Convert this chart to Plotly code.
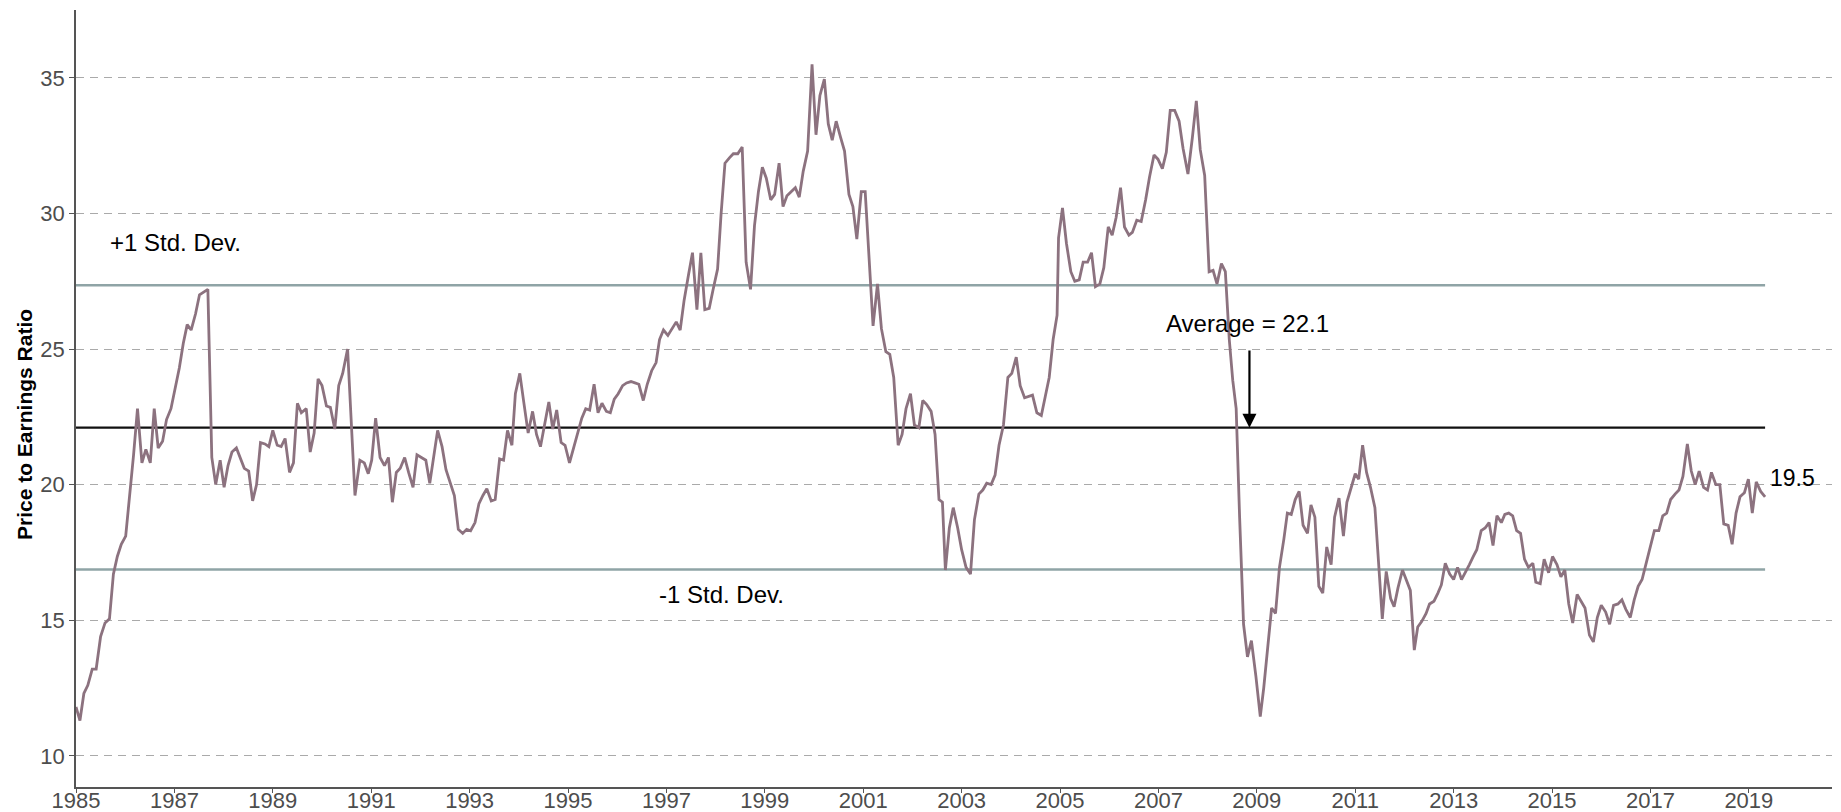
import plotly.graph_objects as go

# ---- data (decimal year, P/E) ----
years = [
    1985.00, 1985.08, 1985.16, 1985.24, 1985.33, 1985.41, 1985.50, 1985.59, 1985.68, 1985.76, 1985.84, 1985.92,
    1986.01, 1986.09, 1986.17, 1986.25, 1986.34, 1986.42, 1986.51, 1986.59, 1986.67, 1986.76, 1986.84, 1986.93,
    1987.01, 1987.10, 1987.18, 1987.26, 1987.34, 1987.43, 1987.51, 1987.59, 1987.68, 1987.76, 1987.84, 1987.93,
    1988.01, 1988.09, 1988.17, 1988.26, 1988.34, 1988.42, 1988.51, 1988.59, 1988.67, 1988.75, 1988.84, 1988.92,
    1989.00, 1989.09, 1989.17, 1989.25, 1989.34, 1989.42, 1989.50, 1989.58, 1989.68, 1989.76, 1989.84, 1989.92,
    1990.00, 1990.09, 1990.17, 1990.26, 1990.34, 1990.42, 1990.52, 1990.67, 1990.77, 1990.86, 1990.94,
    1991.01, 1991.09, 1991.18, 1991.27, 1991.35, 1991.43, 1991.51, 1991.59, 1991.68, 1991.76, 1991.85, 1991.93,
    1992.02, 1992.11, 1992.19, 1992.27, 1992.35, 1992.44, 1992.52, 1992.60, 1992.69, 1992.77, 1992.86, 1992.94,
    1993.02, 1993.11, 1993.19, 1993.27, 1993.35, 1993.44, 1993.52, 1993.61, 1993.69, 1993.77, 1993.86, 1993.93,
    1994.02, 1994.10, 1994.19, 1994.28, 1994.36, 1994.44, 1994.53, 1994.61, 1994.69, 1994.77, 1994.86, 1994.94,
    1995.03, 1995.11, 1995.19, 1995.28, 1995.36, 1995.44, 1995.53, 1995.61, 1995.69, 1995.78, 1995.86, 1995.94,
    1996.02, 1996.11, 1996.19, 1996.28, 1996.36, 1996.44, 1996.53, 1996.61, 1996.70, 1996.79, 1996.86, 1996.94,
    1997.03, 1997.11, 1997.20, 1997.28, 1997.36, 1997.45, 1997.53, 1997.62, 1997.70, 1997.78, 1997.87, 1997.95,
    1998.04, 1998.11, 1998.19, 1998.28, 1998.36, 1998.45, 1998.54, 1998.62, 1998.71, 1998.79, 1998.87, 1998.95,
    1999.03, 1999.12, 1999.20, 1999.29, 1999.37, 1999.45, 1999.53, 1999.62, 1999.70, 1999.78, 1999.87, 1999.96,
    2000.04, 2000.12, 2000.21, 2000.29, 2000.37, 2000.45, 2000.54, 2000.62, 2000.71, 2000.79, 2000.87, 2000.96,
    2001.04, 2001.12, 2001.20, 2001.29, 2001.37, 2001.46, 2001.54, 2001.62, 2001.71, 2001.79, 2001.87, 2001.96,
    2002.04, 2002.13, 2002.21, 2002.29, 2002.38, 2002.46, 2002.54, 2002.61, 2002.67, 2002.75, 2002.83, 2002.92,
    2003.00, 2003.09, 2003.18, 2003.26, 2003.35, 2003.43, 2003.51, 2003.60, 2003.68, 2003.76, 2003.85, 2003.94,
    2004.02, 2004.11, 2004.19, 2004.28, 2004.36, 2004.44, 2004.53, 2004.62, 2004.70, 2004.78, 2004.86, 2004.94,
    2004.97, 2005.05, 2005.13, 2005.22, 2005.30, 2005.39, 2005.47, 2005.56, 2005.64, 2005.72, 2005.81, 2005.89,
    2005.98, 2006.06, 2006.14, 2006.23, 2006.31, 2006.40, 2006.47, 2006.56, 2006.65, 2006.74, 2006.82, 2006.91,
    2006.99, 2007.08, 2007.16, 2007.24, 2007.33, 2007.42, 2007.50, 2007.60, 2007.69, 2007.77, 2007.85, 2007.94,
    2008.03, 2008.11, 2008.19, 2008.28, 2008.36, 2008.44, 2008.51, 2008.58, 2008.65, 2008.73, 2008.81, 2008.89,
    2008.98, 2009.07, 2009.14, 2009.22, 2009.30, 2009.38, 2009.46, 2009.55, 2009.62, 2009.70, 2009.78, 2009.86,
    2009.94, 2010.03, 2010.10, 2010.18, 2010.26, 2010.34, 2010.42, 2010.51, 2010.58, 2010.67, 2010.76, 2010.83,
    2010.91, 2011.00, 2011.07, 2011.15, 2011.23, 2011.31, 2011.40, 2011.48, 2011.55, 2011.63, 2011.72, 2011.79,
    2011.87, 2011.96, 2012.04, 2012.12, 2012.20, 2012.27, 2012.35, 2012.44, 2012.51, 2012.60, 2012.68, 2012.75,
    2012.83, 2012.92, 2013.00, 2013.08, 2013.16, 2013.24, 2013.32, 2013.40, 2013.47, 2013.56, 2013.64, 2013.72,
    2013.80, 2013.88, 2013.97, 2014.04, 2014.12, 2014.20, 2014.28, 2014.36, 2014.44, 2014.52, 2014.61, 2014.67,
    2014.76, 2014.84, 2014.93, 2015.01, 2015.10, 2015.18, 2015.26, 2015.34, 2015.42, 2015.51, 2015.59, 2015.67,
    2015.76, 2015.84, 2015.92, 2016.00, 2016.09, 2016.17, 2016.25, 2016.34, 2016.42, 2016.50, 2016.59, 2016.67,
    2016.75, 2016.83, 2016.92, 2017.00, 2017.08, 2017.17, 2017.25, 2017.33, 2017.41, 2017.50, 2017.58, 2017.66,
    2017.75, 2017.83, 2017.91, 2017.99, 2018.08, 2018.16, 2018.24, 2018.33, 2018.41, 2018.49, 2018.58, 2018.66,
    2018.74, 2018.82, 2018.91, 2018.99, 2019.07, 2019.15, 2019.24, 2019.33,
]

pe_ratio = [
    11.8, 11.3, 12.3, 12.6, 13.2, 13.2, 14.4, 14.9, 15.05, 16.7, 17.35, 17.8,
    18.1, 19.5, 21.1, 22.8, 20.8, 21.3, 20.8, 22.8, 21.35, 21.6, 22.4, 22.8,
    23.45, 24.3, 25.2, 25.9, 25.7, 26.3, 27.0, 27.1, 27.2, 21.0, 20.0, 20.9,
    19.9, 20.7, 21.2, 21.35, 21.0, 20.6, 20.5, 19.4, 20.0, 21.55, 21.5, 21.4,
    22.0, 21.45, 21.4, 21.7, 20.45, 20.8, 23.0, 22.65, 22.8, 21.2, 21.9, 23.9,
    23.65, 22.9, 22.85, 22.05, 23.65, 24.1, 25.0, 19.6, 20.9, 20.8, 20.4,
    20.9, 22.45, 21.0, 20.7, 21.0, 19.35, 20.45, 20.6, 21.0, 20.45, 19.9, 21.1,
    21.0, 20.9, 20.05, 21.1, 22.0, 21.4, 20.55, 20.1, 19.6, 18.35, 18.2, 18.35,
    18.3, 18.6, 19.3, 19.6, 19.85, 19.4, 19.45, 20.95, 20.9, 22.0, 21.45, 23.35,
    24.1, 23.05, 21.9, 22.7, 21.85, 21.4, 22.3, 23.05, 22.05, 22.75, 21.55, 21.45,
    20.8, 21.35, 21.9, 22.45, 22.8, 22.75, 23.7, 22.65, 23.0, 22.7, 22.65, 23.15,
    23.35, 23.65, 23.75, 23.8, 23.75, 23.7, 23.1, 23.7, 24.2, 24.5, 25.35, 25.7,
    25.5, 25.75, 26.0, 25.7, 26.8, 27.75, 28.55, 26.45, 28.55, 26.45, 26.5, 27.2,
    27.95, 29.95, 31.85, 32.05, 32.2, 32.2, 32.45, 28.2, 27.2, 29.55, 30.8, 31.7,
    31.3, 30.5, 30.7, 31.85, 30.25, 30.65, 30.8, 30.95, 30.6, 31.55, 32.3, 35.5,
    32.9, 34.35, 34.95, 33.3, 32.7, 33.4, 32.8, 32.3, 30.7, 30.25, 29.05, 30.8,
    30.8, 28.15, 25.85, 27.4, 25.75, 24.9, 24.8, 23.95, 21.45, 21.85, 22.8, 23.35,
    22.2, 22.1, 23.1, 22.95, 22.7, 21.85, 19.45, 19.35, 16.85, 18.4, 19.15, 18.4,
    17.6, 16.95, 16.7, 18.7, 19.65, 19.8, 20.05, 20.0, 20.35, 21.45, 22.2, 23.95,
    24.1, 24.7, 23.65, 23.2, 23.25, 23.3, 22.65, 22.55, 23.25, 23.95, 25.35, 26.25,
    29.1, 30.2, 28.9, 27.85, 27.5, 27.55, 28.2, 28.2, 28.55, 27.3, 27.4, 28.0,
    29.5, 29.2, 29.85, 30.95, 29.5, 29.2, 29.3, 29.75, 29.7, 30.5, 31.35, 32.15,
    32.0, 31.65, 32.25, 33.8, 33.8, 33.4, 32.4, 31.45, 32.8, 34.15, 32.35, 31.4,
    27.85, 27.9, 27.4, 28.15, 27.85, 25.35, 23.85, 22.8, 18.8, 14.85, 13.65, 14.25,
    12.95, 11.45, 12.5, 13.9, 15.45, 15.25, 16.95, 18.0, 18.95, 18.9, 19.45, 19.75,
    18.5, 18.2, 19.25, 18.8, 16.25, 16.0, 17.7, 17.05, 18.8, 19.5, 18.1, 19.35,
    19.85, 20.4, 20.2, 21.45, 20.45, 19.9, 19.15, 17.05, 15.05, 16.8, 15.8, 15.5,
    16.2, 16.85, 16.5, 16.1, 13.9, 14.75, 14.95, 15.25, 15.6, 15.7, 16.0, 16.3,
    17.1, 16.7, 16.5, 16.95, 16.5, 16.75, 17.05, 17.35, 17.6, 18.3, 18.4, 18.6,
    17.75, 18.85, 18.6, 18.9, 18.95, 18.85, 18.3, 18.2, 17.25, 16.95, 17.1, 16.4,
    16.35, 17.25, 16.75, 17.35, 17.05, 16.6, 16.85, 15.6, 14.9, 15.95, 15.7, 15.45,
    14.45, 14.2, 15.1, 15.55, 15.3, 14.85, 15.55, 15.6, 15.75, 15.4, 15.1, 15.75,
    16.25, 16.5, 17.15, 17.7, 18.3, 18.3, 18.85, 18.95, 19.45, 19.65, 19.8, 20.3,
    21.5, 20.5, 20.0, 20.5, 19.9, 19.8, 20.45, 20.0, 20.0, 18.55, 18.5, 17.8,
    18.95, 19.55, 19.7, 20.2, 18.95, 20.1, 19.75, 19.55,
]
assert len(years) == len(pe_ratio)

average_pe = 22.1
plus_one_sd = 27.35
minus_one_sd = 16.87
last_label = "19.5"

tick_years = list(range(1985, 2020, 2))
tick_text = [str(y) for y in tick_years]
y_ticks = [10, 15, 20, 25, 30, 35]

FONT = "Liberation Sans, Arial, sans-serif"
LINE_COLOR = "#8C727F"
SD_COLOR = "#8FA4A6"

x_start, x_end = years[0], years[-1]

fig = go.Figure()

for level in (plus_one_sd, minus_one_sd):
    fig.add_trace(go.Scatter(x=[x_start, x_end], y=[level, level], mode="lines",
                             line=dict(color=SD_COLOR, width=2.6), hoverinfo="skip",
                             showlegend=False))
fig.add_trace(go.Scatter(x=[x_start, x_end], y=[average_pe, average_pe], mode="lines",
                         line=dict(color="#111111", width=2.4), hoverinfo="skip",
                         showlegend=False))
fig.add_trace(go.Scatter(x=years, y=pe_ratio, mode="lines",
                         line=dict(color=LINE_COLOR, width=2.8), showlegend=False,
                         name="P/E"))

fig.add_annotation(x=1985.66, y=28.92, text="+1 Std. Dev.", showarrow=False,
                   xanchor="left", yanchor="middle", font=dict(size=24, color="#000"))
fig.add_annotation(x=1996.8, y=15.95, text="-1 Std. Dev.", showarrow=False,
                   xanchor="left", yanchor="middle", font=dict(size=24, color="#000"))
fig.add_annotation(x=2008.82, y=25.95, text=f"Average = {average_pe}", showarrow=False,
                   xanchor="center", yanchor="middle", font=dict(size=24, color="#000"))
fig.add_annotation(x=2008.85, y=average_pe, ax=2008.85, ay=25.0, axref="x", ayref="y",
                   xref="x", yref="y", text="", showarrow=True, arrowhead=2,
                   arrowsize=1.27, arrowwidth=2.2, arrowcolor="#000")
fig.add_annotation(x=x_end + 0.05, y=20.25, text=last_label, showarrow=False,
                   xanchor="left", yanchor="middle", font=dict(size=23, color="#000"))
# y-axis title
fig.add_annotation(xref="paper", yref="paper", x=-0.029, y=0.466, textangle=-90,
                   text="<b>Price to Earnings Ratio</b>", showarrow=False,
                   xanchor="center", yanchor="middle", font=dict(size=21, color="#000"))

# page body has an 8px margin: the figure is sized/placed to fill the 1841x812 view
fig.update_layout(
    width=1833, height=804,
    margin=dict(l=68, r=9, t=2, b=25, autoexpand=False),
    paper_bgcolor="white", plot_bgcolor="white",
    font=dict(family=FONT, color="#000"),
    showlegend=False,
)
fig.update_xaxes(
    range=[1985, 2020.69], tickvals=tick_years, ticktext=tick_text, automargin=False,
    showgrid=False, zeroline=False, showline=True, linecolor="#555555", linewidth=1.5,
    ticks="outside", ticklen=4, tickcolor="#555555", tickwidth=1.2,
    ticklabelstandoff=-11,
    tickfont=dict(size=22, color="#4D4D4D"),
)
fig.update_yaxes(
    range=[8.85, 37.5], tickvals=y_ticks, automargin=False,
    showgrid=True, gridcolor="#AAAAAA", gridwidth=1, griddash="8px,6px",
    zeroline=False, showline=True, linecolor="#555555", linewidth=1.5,
    ticks="outside", ticklen=5, tickcolor="#555555", tickwidth=1.2,
    tickfont=dict(size=22, color="#4D4D4D"),
)

fig.write_html("out.html")
